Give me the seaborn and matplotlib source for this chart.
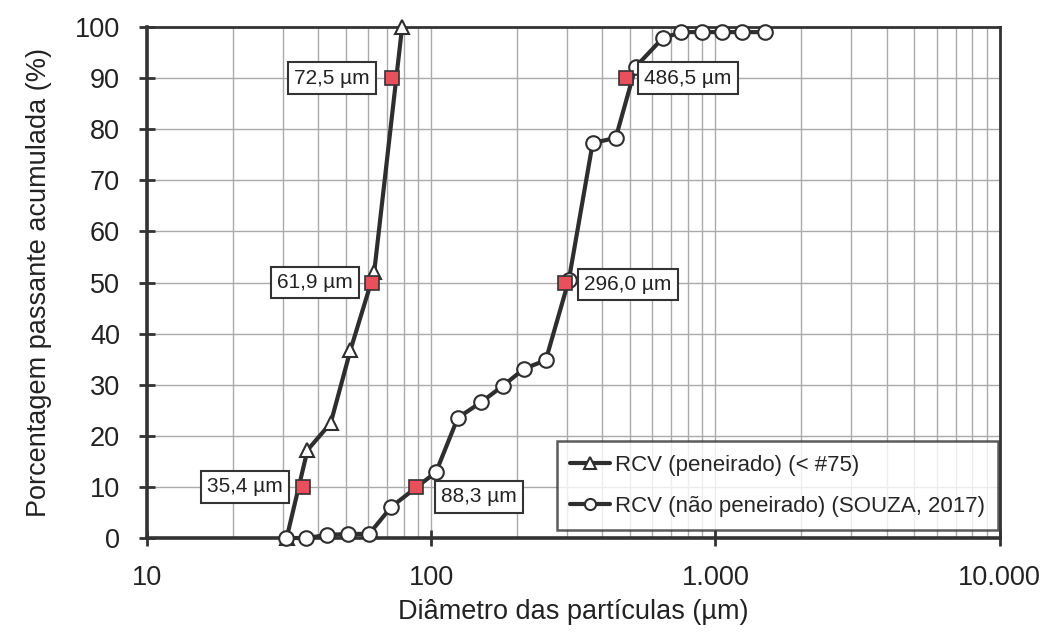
import matplotlib
matplotlib.use("Agg")
import matplotlib.pyplot as plt
import matplotlib.ticker as mticker
import seaborn as sns
import pandas as pd
import numpy as np

# --- data ---
sieved_d = [31, 36.7, 44.3, 52, 63, 79]
sieved_p = [0, 17.2, 22.5, 36.8, 52, 100]

unsieved_d = [30.8, 36.4, 43, 51, 60.5, 72.4, 104, 124, 150, 179, 212, 253,
              305, 370, 446, 524, 652, 759, 900, 1059, 1245, 1497]
unsieved_p = [0, 0, 0.6, 0.8, 0.8, 6.1, 12.9, 23.5, 26.6, 29.8, 33.1, 34.8,
              50.5, 77.3, 78.3, 92.2, 97.8, 99, 99, 99, 99, 99]

key_d = [35.4, 61.9, 72.5, 88.3, 296.0, 486.5]
key_p = [10, 50, 90, 10, 50, 90]
key_labels = ["35,4 \u00b5m", "61,9 \u00b5m", "72,5 \u00b5m", "88,3 \u00b5m",
              "296,0 \u00b5m", "486,5 \u00b5m"]
label_offsets = [(-20, 0, "right"), (-19, 0, "right"), (-22, 0, "right"),
                 (25, -10, "left"), (19, -2, "left"), (18, 0, "left")]

series_names = ["RCV (peneirado) (< #75)", "RCV (não peneirado) (SOUZA, 2017)"]
x_ticks = [10, 100, 1000, 10000]
x_ticklabels = ["10", "100", "1.000", "10.000"]
y_ticks = list(range(0, 101, 10))

sns.set_theme(style="white")
plt.rcParams["font.family"] = ["Liberation Sans", "DejaVu Sans"]

fig = plt.figure(figsize=(10.5, 6.34), dpi=100)
ax = fig.add_axes([0.140, 0.1514, 0.812, 0.806])

line_col = "#2e2e2e"
df1 = pd.DataFrame({"d": sieved_d, "p": sieved_p})
df2 = pd.DataFrame({"d": unsieved_d, "p": unsieved_p})

sns.lineplot(data=df1, x="d", y="p", ax=ax, sort=False, estimator=None,
             color=line_col, lw=3, marker="^", markersize=10.5,
             markerfacecolor="white", markeredgecolor=line_col, markeredgewidth=1.5,
             label=series_names[0], clip_on=False, zorder=3)
sns.lineplot(data=df2, x="d", y="p", ax=ax, sort=False, estimator=None,
             color=line_col, lw=3, marker="o", markersize=10.5,
             markerfacecolor="white", markeredgecolor=line_col, markeredgewidth=1.5,
             label=series_names[1], clip_on=False, zorder=3)

ax.plot(key_d, key_p, linestyle="none", marker="s", markersize=10,
        markerfacecolor="#e8505b", markeredgecolor="#333333", markeredgewidth=1.2,
        zorder=5, clip_on=False)

for d, p, lab, (dx, dy, ha) in zip(key_d, key_p, key_labels, label_offsets):
    ax.annotate(lab, (d, p), xytext=(dx, dy), textcoords="offset pixels",
                ha=ha, va="center", fontsize=15, color="#222222", zorder=6,
                bbox=dict(boxstyle="square,pad=0.3", fc="white", ec="#333333", lw=1.5))

ax.set_xscale("log")
ax.set_xlim(10, 10000)
ax.set_ylim(0, 100)
ax.set_xticks(x_ticks)
ax.set_xticklabels(x_ticklabels)
ax.set_yticks(y_ticks)
ax.xaxis.set_minor_locator(mticker.LogLocator(base=10, subs=np.arange(2, 10)))
ax.xaxis.set_minor_formatter(mticker.NullFormatter())

ax.grid(True, which="major", color="#aaaaaa", lw=1)
ax.grid(True, which="minor", axis="x", color="#aaaaaa", lw=1)
ax.set_axisbelow(True)

for name, s in ax.spines.items():
    s.set_color("#333333")
    s.set_linewidth(2.6 if name in ("left", "bottom") else 2.0)

ax.tick_params(axis="both", which="major", labelsize=19.5, colors="#333333",
               labelcolor="#222222", length=11, width=2, direction="inout",
               left=True, bottom=True)
ax.tick_params(axis="y", which="major", pad=14)
ax.tick_params(axis="x", which="major", pad=14)
ax.tick_params(axis="x", which="minor", length=0)

ax.set_xlabel("Diâmetro das partículas (\u00b5m)", fontsize=19.5, color="#222222", labelpad=6)
ax.set_ylabel("Porcentagem passante acumulada (%)", fontsize=19.5, color="#222222", labelpad=16)

leg = ax.legend(loc="lower right", fontsize=16, frameon=True, fancybox=False,
                edgecolor="#333333", handlelength=1.8, handletextpad=0.2,
                borderpad=0.6, labelspacing=0.9, borderaxespad=0,
                bbox_to_anchor=(0.998, 0.016))
leg.get_frame().set_linewidth(1.8)
for h in leg.legend_handles:
    h.set_markersize(8)

fig.savefig("out.png", dpi=100)
